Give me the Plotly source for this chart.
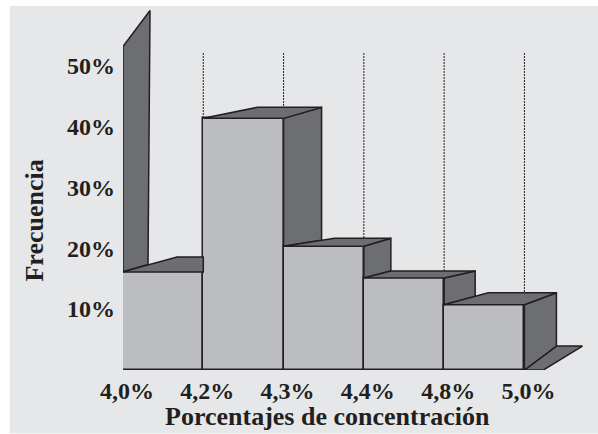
import plotly.graph_objects as go

# Data
edges = ["4,0%", "4,2%", "4,3%", "4,4%", "4,8%", "5,0%"]
freq = [16.1, 41.3, 20.3, 15.1, 10.7]
y_ticks = [10, 20, 30, 40, 50]
y_labels = ["10%", "20%", "30%", "40%", "50%"]
x_title = "Porcentajes de concentración"
y_title = "Frecuencia"

# Pixel scale of the axes
PX_X = 80.25
PX_Y = 6.1
LEFT, TOP, BASE, W, H = 123.2, 6, 370.4, 598, 434

# Extruded look, per bar, in pixels: back-left shift, back-right shift, rise
back_left = [54, 54, 51, 27, 44]
back_right = [0, 38, 27, 31, 32]
rise = [15, 11, 8, 7, 12]
FLOOR_RISE, FLOOR_BACK, FLOOR_FRONT, FLOOR_TAIL = 24, 32, 58, 19
WALL_VALUE, WALL_DX, WALL_RISE = 53.1, 27, 36
GUIDE_TOP = 52.1

DARK = "#231f20"
SIDE = "#6d6e71"
FRONT = "#bcbdc0"
PANEL = "#e6e7e8"
FONT = "Liberation Serif"

dx = lambda p: p / PX_X
dy = lambda p: p / PX_Y
paper_x = lambda p: (p - LEFT) / (W - LEFT)
paper_y = lambda p: (BASE - p) / (BASE - TOP)

fig = go.Figure()


def face(xs, ys, color=SIDE, width=1.5):
    fig.add_trace(go.Scatter(
        x=xs, y=ys, mode="lines", fill="toself", fillcolor=color,
        line=dict(color=DARK, width=width), hoverinfo="skip",
        showlegend=False, cliponaxis=False,
    ))


centers = [i + 0.5 for i in range(len(freq))]
fig.add_trace(go.Bar(
    x=centers, y=freq, width=1, marker=dict(color=FRONT, line=dict(color=DARK, width=1.5)),
    showlegend=False, cliponaxis=False, hoverinfo="skip",
))

# Back wall, rising from the first bar's top face
wall_foot = freq[0] + dy(rise[0]) * WALL_DX / back_left[0]
face([0, dx(WALL_DX), dx(WALL_DX) - dx(2), 0, 0],
     [WALL_VALUE, WALL_VALUE + dy(WALL_RISE), wall_foot, freq[0], WALL_VALUE])

# Floor
n = len(freq)
face([n, n + dx(FLOOR_BACK), n + dx(FLOOR_FRONT), n + dx(FLOOR_TAIL), n],
     [0, dy(FLOOR_RISE), dy(FLOOR_RISE), 0, 0])

for i, v in enumerate(freq):
    # side face, resting on the next bar's top or on the floor
    right = i + 1
    if back_right[i] > 0:
        if i + 1 < n:
            nxt = freq[i + 1]
            back_low = nxt + dy(rise[i + 1]) * back_right[i] / back_left[i + 1]
        else:
            nxt = 0
            back_low = dy(FLOOR_RISE)
        face([right, right + dx(back_right[i]), right + dx(back_right[i]), right, right],
             [v, v + dy(rise[i]), back_low, nxt, v])
    # top face
    face([i, i + dx(back_left[i]), right + dx(back_right[i]), right, i],
         [v, v + dy(rise[i]), v + dy(rise[i]), v, v])

shapes = [dict(type="rect", xref="paper", yref="paper",
               x0=paper_x(10), x1=1, y0=paper_y(H), y1=1,
               fillcolor=PANEL, line_width=0, layer="below")]
for i in range(1, len(edges)):
    shapes.append(dict(type="line", xref="x", yref="y", x0=i, x1=i, y0=0, y1=GUIDE_TOP,
                       line=dict(color=DARK, width=1, dash="2px,1px"), layer="below"))

tick_font = dict(family=FONT, size=24, color=DARK, weight=700)
title_font = dict(family=FONT, size=26, color=DARK, weight=700)
annotations = [
    dict(text=x_title, xref="paper", yref="paper", x=paper_x(328), y=paper_y(417),
         xanchor="center", yanchor="middle", showarrow=False, font=title_font),
    dict(text=y_title, xref="paper", yref="paper", x=paper_x(35), y=paper_y(221),
         xanchor="center", yanchor="middle", showarrow=False, font=title_font, textangle=-90),
]
fig.update_layout(
    width=W, height=H, autosize=False,
    margin=dict(l=LEFT, r=0, t=TOP, b=H - BASE, pad=0),
    paper_bgcolor="white", plot_bgcolor="rgba(0,0,0,0)",
    shapes=shapes, annotations=annotations, showlegend=False, bargap=0,
    xaxis=dict(range=[0, (W - LEFT) / PX_X], tickmode="array", tickvals=list(range(len(edges))),
               ticktext=edges, tickfont=tick_font, showgrid=False, zeroline=False, showline=False,
               ticks="", ticklabelstandoff=4, ticklabelshift=4),
    yaxis=dict(range=[0, (BASE - TOP) / PX_Y], tickmode="array", tickvals=y_ticks,
               ticktext=y_labels, tickfont=tick_font, showgrid=False, zeroline=False, showline=False,
               ticks="", ticklabelstandoff=7),
)
fig.write_html("out.html", post_script="document.body.style.margin='0';",
               config=dict(displayModeBar=False))
